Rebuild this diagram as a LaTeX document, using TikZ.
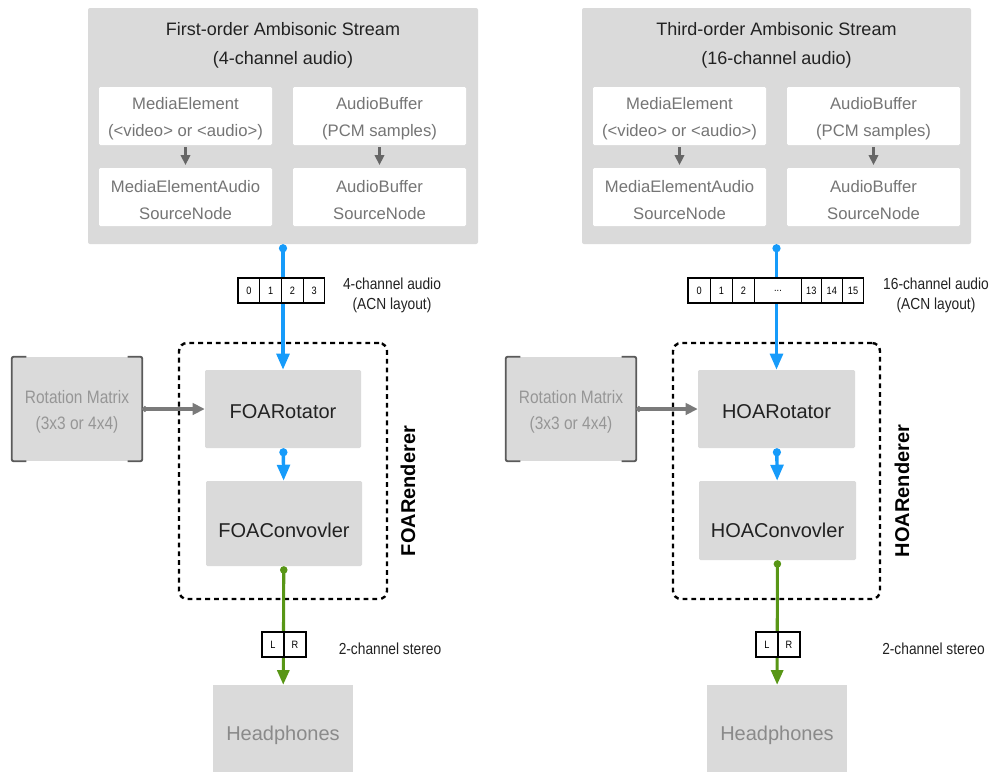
\documentclass[tikz,border=0pt]{standalone}
\usepackage{fontspec}
\setmainfont{Liberation Sans}
\newfontfamily\condf[FakeStretch=0.86]{Liberation Sans}
\usetikzlibrary{arrows.meta,fit}
\definecolor{boxgray}{HTML}{DADADA}
\definecolor{txtgray}{HTML}{757575}
\definecolor{ltgray}{HTML}{8A8A8A}
\definecolor{rmgray}{HTML}{969696}
\definecolor{dk}{HTML}{222222}
\definecolor{flowblue}{RGB}{22,155,250}
\definecolor{flowgreen}{RGB}{88,150,22}
\definecolor{arrgray}{HTML}{666666}
\definecolor{rotgray}{HTML}{7A7A7A}
\definecolor{brk}{HTML}{5A5A5A}
\begin{document}
\begin{tikzpicture}[x=0.75pt,y=-0.75pt,
  outer/.style={fill=boxgray, rounded corners=1.5pt, inner sep=0pt},
  inner/.style={fill=white, rounded corners=1pt, inner sep=0pt},
  innertxt/.style={text=txtgray, font=\fontsize{12.5}{20}\selectfont, align=center},
  proc/.style={fill=boxgray, rounded corners=1pt, inner sep=0pt},
  proctxt/.style={text=dk, font=\fontsize{15}{18}\selectfont},
  phones/.style={fill=boxgray, inner sep=0pt},
  phonestxt/.style={text=ltgray, font=\fontsize{15}{18}\selectfont},
  rotm/.style={fill=boxgray, inner sep=0pt},
  rotmtxt/.style={text=rmgray, font=\condf\fontsize{13.5}{20}\selectfont, align=center},
  bracket/.style={brk, line width=1.4pt, rounded corners=1.5pt},
  title/.style={text=dk, font=\fontsize{13.5}{21.75}\selectfont, align=center},
  note/.style={text=dk, font=\condf\fontsize{12}{15}\selectfont, align=center},
  cell/.style={draw=black, line width=0.8pt, fill=white, inner sep=0pt, outer sep=0pt, minimum height=18.75pt, font=\condf\fontsize{8}{9}\selectfont, anchor=west},
  renderer/.style={draw=black, dash pattern=on 3.6pt off 3pt, line width=1.8pt, rounded corners=6pt, inner sep=0pt},
  rlabel/.style={rotate=90, text=black, font=\bfseries\fontsize{15}{18}\selectfont},
  blueflow/.style={flowblue, line width=2.6pt, {Circle[length=6pt]}-{Triangle[length=12pt,width=9.5pt]}},
  greenflow/.style={flowgreen, line width=2.3pt, {Circle[length=5.5pt]}-{Triangle[length=11pt,width=9pt]}},
  rotflow/.style={rotgray, line width=3pt, {Circle[length=4pt]}-{Triangle[length=9pt,width=8.5pt]}},
  srcflow/.style={arrgray, line width=2.5pt, -{Triangle[length=7.5pt,width=7pt]}, shorten <=1.5pt, shorten >=2pt}
]
\useasboundingbox (0,0) rectangle (994,771);

% ================= LEFT PANEL =================
\node[outer, fit={(88,8) (478,244)}] (Ltop) {};
\node[title] (Ltitle) at (283,45.5) {First-order Ambisonic Stream\\(4-channel audio)};
\node[inner, fit={(99,87) (272,145)}] (Lme) {};
\node[innertxt] (Lme-t) at ([yshift=-2.25pt]Lme.center) {MediaElement\\(<video> or <audio>)};
\node[inner, fit={(293,87) (466,145)}] (Lab) {};
\node[innertxt] (Lab-t) at ([yshift=-2.25pt]Lab.center) {AudioBuffer\\(PCM samples)};
\node[inner, fit={(99,168) (272,226)}] (Lmes) {};
\node[innertxt] (Lmes-t) at ([yshift=-2.25pt]Lmes.center) {MediaElementAudio\\SourceNode};
\node[inner, fit={(293,168) (466,226)}] (Labs) {};
\node[innertxt] (Labs-t) at ([yshift=-2.25pt]Labs.center) {AudioBuffer\\SourceNode};
\draw[srcflow] (Lme) -- (Lmes);
\draw[srcflow] (Lab) -- (Labs);

\node[renderer, fit={(179,343) (387,599)}] (Lren) {};
\node[rlabel] (Lrlab) at (408,491) {FOARenderer};
\node[proc, fit={(205,370) (361,448)}] (Lrot) {};
\node[proctxt] (Lrot-t) at ([yshift=-2.25pt]Lrot.center) {FOARotator};
\node[proc, fit={(206,481) (362,566)}] (Lconv) {};
\node[proctxt] (Lconv-t) at (284,530) {FOAConvovler};
\node[rotm, fit={(12,357) (142,461)}] (Lrm) {};
\node[rotmtxt] (Lrm-t) at ([yshift=-2.25pt]Lrm.center) {Rotation Matrix\\(3x3 or 4x4)};
\draw[bracket] ([xshift=11pt]Lrm.north west) -- (Lrm.north west) -- (Lrm.south west) -- ([xshift=11pt]Lrm.south west);
\draw[bracket] ([xshift=-11pt]Lrm.north east) -- (Lrm.north east) -- (Lrm.south east) -- ([xshift=-11pt]Lrm.south east);
\node[phones, fit={(213,685) (353,779)}] (Lhp) {};
\node[phonestxt] (Lhp-t) at ([yshift=-2.25pt]Lhp.center) {Headphones};

\draw[blueflow] (Ltop.south) -- (Lrot.north);
\draw[blueflow] (Lrot) -- (Lconv);
\draw[greenflow] (Lconv) -- (Lhp);
\draw[rotflow] (Lrm) -- (Lrot);

\node[cell, minimum width=16.3pt] (Lc0) at (238,290.5) {0};
\node[cell, minimum width=16.3pt] (Lc1) at (Lc0.east) {1};
\node[cell, minimum width=16.3pt] (Lc2) at (Lc1.east) {2};
\node[cell, minimum width=16.3pt] (Lc3) at (Lc2.east) {3};
\node[note] (Lnote) at (392,295.5) {4-channel audio\\(ACN layout)};

\node[cell, minimum width=16.5pt] (LcL) at (262,644.5) {L};
\node[cell, minimum width=16.5pt] (LcR) at (LcL.east) {R};
\node[note] (Lst) at (390,649) {2-channel stereo};

% ================= RIGHT PANEL =================
\node[outer, fit={(582,8) (971,244)}] (Rtop) {};
\node[title] (Rtitle) at (776.5,45.5) {Third-order Ambisonic Stream\\(16-channel audio)};
\node[inner, fit={(593,87) (766,145)}] (Rme) {};
\node[innertxt] (Rme-t) at ([yshift=-2.25pt]Rme.center) {MediaElement\\(<video> or <audio>)};
\node[inner, fit={(787,87) (960,145)}] (Rab) {};
\node[innertxt] (Rab-t) at ([yshift=-2.25pt]Rab.center) {AudioBuffer\\(PCM samples)};
\node[inner, fit={(593,168) (766,226)}] (Rmes) {};
\node[innertxt] (Rmes-t) at ([yshift=-2.25pt]Rmes.center) {MediaElementAudio\\SourceNode};
\node[inner, fit={(787,168) (960,226)}] (Rabs) {};
\node[innertxt] (Rabs-t) at ([yshift=-2.25pt]Rabs.center) {AudioBuffer\\SourceNode};
\draw[srcflow] (Rme) -- (Rmes);
\draw[srcflow] (Rab) -- (Rabs);

\node[renderer, fit={(673,343) (880,599)}] (Rren) {};
\node[rlabel] (Rrlab) at (902,491) {HOARenderer};
\node[proc, fit={(698,370) (855,448)}] (Rrot) {};
\node[proctxt] (Rrot-t) at ([yshift=-2.25pt]Rrot.center) {HOARotator};
\node[proc, fit={(699,481) (856,560)}] (Rconv) {};
\node[proctxt] (Rconv-t) at (777.5,530) {HOAConvovler};
\node[rotm, fit={(506,357) (636,461)}] (Rrm) {};
\node[rotmtxt] (Rrm-t) at ([yshift=-2.25pt]Rrm.center) {Rotation Matrix\\(3x3 or 4x4)};
\draw[bracket] ([xshift=11pt]Rrm.north west) -- (Rrm.north west) -- (Rrm.south west) -- ([xshift=11pt]Rrm.south west);
\draw[bracket] ([xshift=-11pt]Rrm.north east) -- (Rrm.north east) -- (Rrm.south east) -- ([xshift=-11pt]Rrm.south east);
\node[phones, fit={(707,685) (847,779)}] (Rhp) {};
\node[phonestxt] (Rhp-t) at ([yshift=-2.25pt]Rhp.center) {Headphones};

\draw[blueflow] (Rtop.south) -- (Rrot.north);
\draw[blueflow] (Rrot) -- (Rconv);
\draw[greenflow] (Rconv) -- (Rhp);
\draw[rotflow] (Rrm) -- (Rrot);

\node[cell, minimum width=16.8pt] (Rc0) at (688,290.5) {0};
\node[cell, minimum width=16.5pt] (Rc1) at (Rc0.east) {1};
\node[cell, minimum width=16.7pt] (Rc2) at (Rc1.east) {2};
\node[cell, minimum width=35pt] (Rcd) at (Rc2.east) {...};
\node[cell, minimum width=15pt] (Rc13) at (Rcd.east) {13};
\node[cell, minimum width=15.75pt] (Rc14) at (Rc13.east) {14};
\node[cell, minimum width=16pt] (Rc15) at (Rc14.east) {15};
\node[note] (Rnote) at (936,295.5) {16-channel audio\\(ACN layout)};

\node[cell, minimum width=16.5pt] (RcL) at (756,644.5) {L};
\node[cell, minimum width=16.5pt] (RcR) at (RcL.east) {R};
\node[note] (Rst) at (933.5,649) {2-channel stereo};
\end{tikzpicture}
\end{document}
